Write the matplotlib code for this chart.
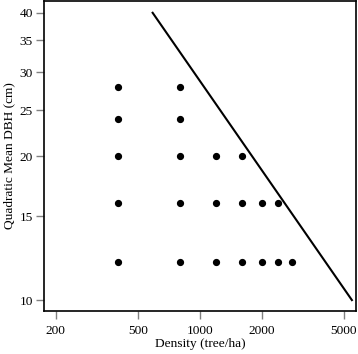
import matplotlib.pyplot as plt
from matplotlib.ticker import FixedLocator, NullLocator, FixedFormatter

plt.rcParams['font.family'] = ['Liberation Serif', 'DejaVu Serif']

# dados
dens_pts = [400, 800, 400, 800, 400, 800, 1200, 1600,
            400, 800, 1200, 1600, 2000, 2400,
            400, 800, 1200, 1600, 2000, 2400, 2800]
dbh_pts = [28, 28, 24, 24, 20, 20, 20, 20,
           16, 16, 16, 16, 16, 16,
           12, 12, 12, 12, 12, 12, 12]

# linha de autodesbaste
dens_line = [590, 5470]
dbh_line = [40, 10]

x_ticks = [200, 500, 1000, 2000, 5000]
y_ticks = [10, 15, 20, 25, 30, 35, 40]

fig = plt.figure(figsize=(3.58, 3.54), dpi=100)
ax = fig.add_axes([0.124, 0.121, 0.870, 0.877])

ax.plot(dens_pts, dbh_pts, 'o', color='black', markersize=4.2)
ax.plot(dens_line, dbh_line, '-', color='black', linewidth=1.5)

ax.set_xscale('log')
ax.set_yscale('log')
ax.set_xlim(176, 5717)
ax.set_ylim(9.48, 42.4)

ax.xaxis.set_major_locator(FixedLocator(x_ticks))
ax.xaxis.set_major_formatter(FixedFormatter([str(t) for t in x_ticks]))
ax.xaxis.set_minor_locator(NullLocator())
ax.yaxis.set_major_locator(FixedLocator(y_ticks))
ax.yaxis.set_major_formatter(FixedFormatter([str(t) for t in y_ticks]))
ax.yaxis.set_minor_locator(NullLocator())

ax.tick_params(axis='both', direction='out', length=5.8, width=1, color='gray',
               labelsize=9.6)
ax.tick_params(axis='x', pad=4)
ax.tick_params(axis='y', pad=2.5)

for s in ax.spines.values():
    s.set_linewidth(1.2)

ax.set_xlabel('Density (tree/ha)', fontsize=9.6, labelpad=1)
ax.set_ylabel('Quadratic Mean DBH (cm)', fontsize=9.6, labelpad=3)

plt.savefig('out.png', dpi=100)
